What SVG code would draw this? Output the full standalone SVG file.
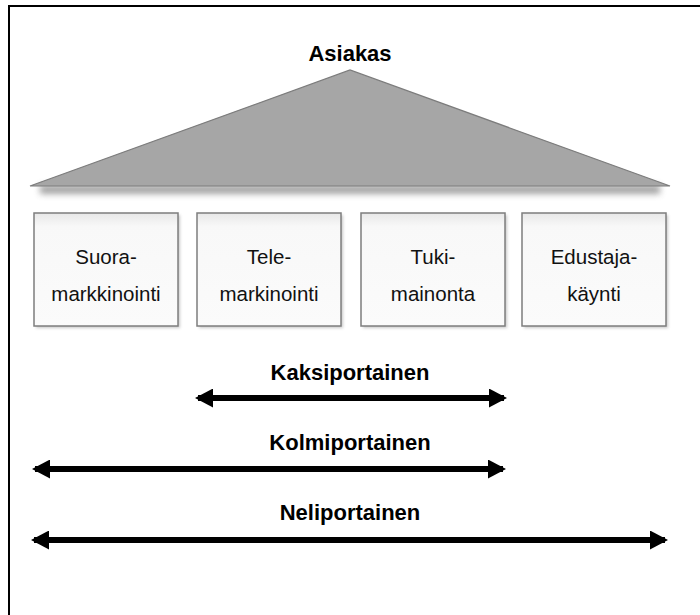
<svg xmlns="http://www.w3.org/2000/svg" width="700" height="615" viewBox="0 0 700 615">
  <style>
    .title { font-family: "Liberation Sans", Arial, sans-serif; font-weight: bold; font-size: 22px; fill: #000; text-anchor: middle; }
    .box { fill: url(#boxFill); stroke: #7e7e7e; stroke-width: 1.5; }
    .boxText { font-family: "Liberation Sans", Arial, sans-serif; font-size: 20.5px; fill: #111; text-anchor: middle; }
    .conn { stroke: #000; stroke-width: 6; fill: none; marker-start: url(#headStart); marker-end: url(#headEnd); }
  </style>
  <defs>
    <linearGradient id="boxFill" x1="0" y1="0" x2="0" y2="1">
      <stop offset="0" stop-color="#e8e8e8"/>
      <stop offset="0.12" stop-color="#f8f8f8"/>
      <stop offset="1" stop-color="#fbfbfb"/>
    </linearGradient>
    <filter id="soft" x="-10%" y="-80%" width="120%" height="260%">
      <feGaussianBlur stdDeviation="3"/>
    </filter>
    <filter id="boxShadow" x="-10%" y="-10%" width="125%" height="125%">
      <feGaussianBlur stdDeviation="1.5"/>
    </filter>
    <marker id="headEnd" viewBox="0 0 18 19" refX="15" refY="9.5" markerWidth="18" markerHeight="19" markerUnits="userSpaceOnUse" orient="auto">
      <path d="M0,0 L18,9.5 L0,19 Z" fill="#000"/>
    </marker>
    <marker id="headStart" viewBox="0 0 18 19" refX="3" refY="9.5" markerWidth="18" markerHeight="19" markerUnits="userSpaceOnUse" orient="auto">
      <path d="M18,0 L0,9.5 L18,19 Z" fill="#000"/>
    </marker>
  </defs>

  <rect width="700" height="615" fill="#fff"/>
  <!-- frame: left and top edges -->
  <path d="M9,615 V6 H700" fill="none" stroke="#000" stroke-width="2"/>

  <g id="asiakas">
    <text class="title" x="350" y="61">Asiakas</text>
    <rect x="40" y="185" width="620" height="9" fill="#8c8c8c" opacity="0.8" filter="url(#soft)"/>
    <polygon points="30,186 350,70 670,186" fill="#a6a6a6" stroke="#7c7c7c" stroke-width="1.2"/>
  </g>

  <g id="suoramarkkinointi">
    <rect x="36" y="215" width="144" height="113" fill="#c8c8c8" filter="url(#boxShadow)"/>
    <rect class="box" x="34" y="213" width="144" height="113"/>
    <text class="boxText" x="106" y="264">Suora-</text>
    <text class="boxText" x="106" y="301">markkinointi</text>
  </g>

  <g id="telemarkinointi">
    <rect x="199" y="215" width="144" height="113" fill="#c8c8c8" filter="url(#boxShadow)"/>
    <rect class="box" x="197" y="213" width="144" height="113"/>
    <text class="boxText" x="269" y="264">Tele-</text>
    <text class="boxText" x="269" y="301">markinointi</text>
  </g>

  <g id="tukimainonta">
    <rect x="363" y="215" width="144" height="113" fill="#c8c8c8" filter="url(#boxShadow)"/>
    <rect class="box" x="361" y="213" width="144" height="113"/>
    <text class="boxText" x="433" y="264">Tuki-</text>
    <text class="boxText" x="433" y="301">mainonta</text>
  </g>

  <g id="edustajakaynti">
    <rect x="524" y="215" width="144" height="113" fill="#c8c8c8" filter="url(#boxShadow)"/>
    <rect class="box" x="522" y="213" width="144" height="113"/>
    <text class="boxText" x="594" y="264">Edustaja-</text>
    <text class="boxText" x="594" y="301">käynti</text>
  </g>

  <g id="labels">
    <text class="title" x="350" y="380">Kaksiportainen</text>
    <text class="title" x="350" y="450">Kolmiportainen</text>
    <text class="title" x="350" y="520">Neliportainen</text>
  </g>

  <g id="connectors">
    <line class="conn" x1="198" y1="398" x2="504" y2="398"/>
    <line class="conn" x1="35" y1="469" x2="503" y2="469"/>
    <line class="conn" x1="34" y1="540" x2="665" y2="540"/>
  </g>
</svg>
